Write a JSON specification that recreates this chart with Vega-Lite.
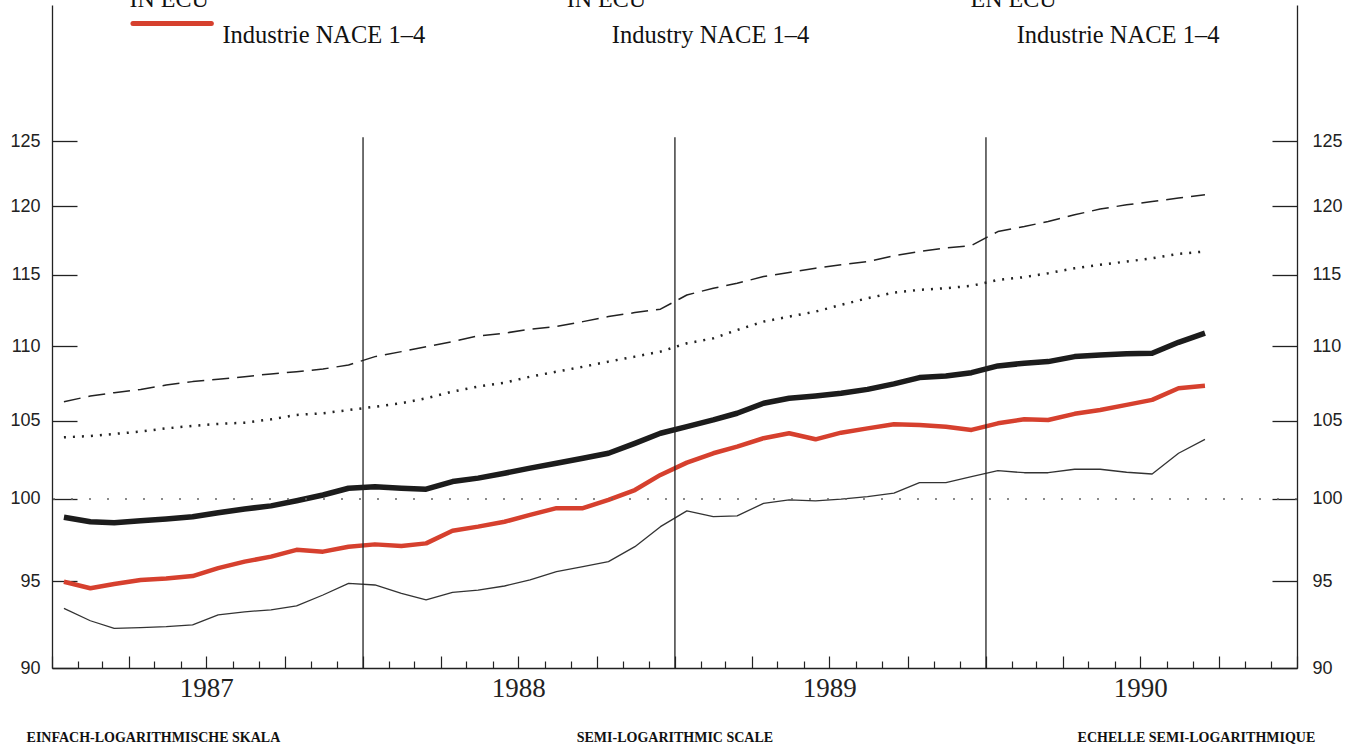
{
  "$schema": "https://vega.github.io/schema/vega-lite/v6.json",
  "width": 1245,
  "height": 663,
  "autosize": {"type": "none"},
  "padding": {"left": 52, "top": 5, "right": 63, "bottom": 83},
  "background": "white",
  "config": {"view": {"stroke": null}, "axis": {"grid": false}},
  "resolve": {"axis": {"y": "independent"}},
  "datasets": {
    "series": [
      {"date": "1987-01-15", "S1": 106.25, "S2": 103.92, "S3": 98.87, "NACE": 94.97, "S4": 93.41},
      {"date": "1987-02-15", "S1": 106.63, "S2": 104.00, "S3": 98.59, "NACE": 94.59, "S4": 92.69},
      {"date": "1987-03-15", "S1": 106.85, "S2": 104.14, "S3": 98.53, "NACE": 94.84, "S4": 92.25},
      {"date": "1987-04-15", "S1": 107.07, "S2": 104.29, "S3": 98.65, "NACE": 95.08, "S4": 92.29},
      {"date": "1987-05-15", "S1": 107.36, "S2": 104.50, "S3": 98.76, "NACE": 95.17, "S4": 92.35},
      {"date": "1987-06-15", "S1": 107.59, "S2": 104.66, "S3": 98.90, "NACE": 95.31, "S4": 92.45},
      {"date": "1987-07-15", "S1": 107.75, "S2": 104.79, "S3": 99.15, "NACE": 95.78, "S4": 93.03},
      {"date": "1987-08-15", "S1": 107.92, "S2": 104.87, "S3": 99.38, "NACE": 96.17, "S4": 93.21},
      {"date": "1987-09-15", "S1": 108.11, "S2": 105.09, "S3": 99.57, "NACE": 96.47, "S4": 93.32},
      {"date": "1987-10-15", "S1": 108.26, "S2": 105.38, "S3": 99.89, "NACE": 96.88, "S4": 93.55},
      {"date": "1987-11-15", "S1": 108.44, "S2": 105.49, "S3": 100.25, "NACE": 96.77, "S4": 94.19},
      {"date": "1987-12-15", "S1": 108.71, "S2": 105.70, "S3": 100.67, "NACE": 97.07, "S4": 94.88},
      {"date": "1988-01-15", "S1": 109.28, "S2": 105.92, "S3": 100.77, "NACE": 97.21, "S4": 94.78},
      {"date": "1988-02-15", "S1": 109.62, "S2": 106.15, "S3": 100.67, "NACE": 97.11, "S4": 94.29},
      {"date": "1988-03-15", "S1": 109.96, "S2": 106.48, "S3": 100.61, "NACE": 97.27, "S4": 93.90},
      {"date": "1988-04-15", "S1": 110.30, "S2": 106.92, "S3": 101.09, "NACE": 98.04, "S4": 94.35},
      {"date": "1988-05-15", "S1": 110.70, "S2": 107.26, "S3": 101.31, "NACE": 98.29, "S4": 94.48},
      {"date": "1988-06-15", "S1": 110.89, "S2": 107.52, "S3": 101.62, "NACE": 98.59, "S4": 94.72},
      {"date": "1988-07-15", "S1": 111.16, "S2": 107.92, "S3": 101.94, "NACE": 99.01, "S4": 95.08},
      {"date": "1988-08-15", "S1": 111.35, "S2": 108.26, "S3": 102.25, "NACE": 99.43, "S4": 95.57},
      {"date": "1988-09-15", "S1": 111.69, "S2": 108.59, "S3": 102.57, "NACE": 99.43, "S4": 95.87},
      {"date": "1988-10-15", "S1": 112.04, "S2": 108.94, "S3": 102.89, "NACE": 99.94, "S4": 96.17},
      {"date": "1988-11-15", "S1": 112.32, "S2": 109.28, "S3": 103.53, "NACE": 100.56, "S4": 97.07},
      {"date": "1988-12-15", "S1": 112.56, "S2": 109.62, "S3": 104.18, "NACE": 101.51, "S4": 98.29},
      {"date": "1989-01-15", "S1": 113.56, "S2": 110.19, "S3": 104.61, "NACE": 102.29, "S4": 99.26},
      {"date": "1989-02-15", "S1": 114.04, "S2": 110.53, "S3": 105.05, "NACE": 102.89, "S4": 98.90},
      {"date": "1989-03-15", "S1": 114.39, "S2": 111.11, "S3": 105.49, "NACE": 103.32, "S4": 98.95},
      {"date": "1989-04-15", "S1": 114.87, "S2": 111.69, "S3": 106.15, "NACE": 103.86, "S4": 99.73},
      {"date": "1989-05-15", "S1": 115.16, "S2": 112.04, "S3": 106.48, "NACE": 104.18, "S4": 99.94},
      {"date": "1989-06-15", "S1": 115.47, "S2": 112.39, "S3": 106.63, "NACE": 103.79, "S4": 99.88},
      {"date": "1989-07-15", "S1": 115.72, "S2": 112.86, "S3": 106.81, "NACE": 104.22, "S4": 99.99},
      {"date": "1989-08-15", "S1": 115.95, "S2": 113.33, "S3": 107.07, "NACE": 104.50, "S4": 100.15},
      {"date": "1989-09-15", "S1": 116.37, "S2": 113.73, "S3": 107.44, "NACE": 104.77, "S4": 100.36},
      {"date": "1989-10-15", "S1": 116.68, "S2": 113.92, "S3": 107.86, "NACE": 104.72, "S4": 101.02},
      {"date": "1989-11-15", "S1": 116.93, "S2": 114.04, "S3": 107.97, "NACE": 104.61, "S4": 101.02},
      {"date": "1989-12-15", "S1": 117.12, "S2": 114.21, "S3": 108.19, "NACE": 104.40, "S4": 101.40},
      {"date": "1990-01-15", "S1": 118.14, "S2": 114.63, "S3": 108.65, "NACE": 104.83, "S4": 101.78},
      {"date": "1990-02-15", "S1": 118.51, "S2": 114.83, "S3": 108.83, "NACE": 105.09, "S4": 101.65},
      {"date": "1990-03-15", "S1": 118.89, "S2": 115.11, "S3": 108.94, "NACE": 105.05, "S4": 101.65},
      {"date": "1990-04-15", "S1": 119.38, "S2": 115.47, "S3": 109.28, "NACE": 105.45, "S4": 101.87},
      {"date": "1990-05-15", "S1": 119.81, "S2": 115.72, "S3": 109.39, "NACE": 105.70, "S4": 101.87},
      {"date": "1990-06-15", "S1": 120.13, "S2": 115.95, "S3": 109.47, "NACE": 106.04, "S4": 101.68},
      {"date": "1990-07-15", "S1": 120.37, "S2": 116.19, "S3": 109.51, "NACE": 106.37, "S4": 101.57},
      {"date": "1990-08-15", "S1": 120.63, "S2": 116.51, "S3": 110.26, "NACE": 107.15, "S4": 102.89},
      {"date": "1990-09-15", "S1": 120.88, "S2": 116.68, "S3": 110.89, "NACE": 107.32, "S4": 103.79}
    ]
  },
  "layer": [
    {
      "data": {"name": "series"},
      "mark": {"type": "line", "strokeJoin": "round", "color": "#222222", "strokeWidth": 1.5, "strokeDash": [17, 8]},
      "encoding": {
        "x": {
          "field": "date",
          "type": "temporal",
          "scale": {"type": "utc", "domain": [{"year": 1987, "month": 1, "date": 1, "utc": true}, {"year": 1991, "month": 1, "date": 1, "utc": true}]},
          "axis": {
            "orient": "bottom",
            "title": null,
            "tickCount": {"interval": "month", "step": 1},
            "tickSize": {"condition": {"test": "utcmonth(datum.value) % 3 == 0", "value": -12}, "value": -7},
            "tickColor": "#222",
            "tickWidth": 1.2,
            "domainColor": "#222",
            "domainWidth": 1.3,
            "labelExpr": "utcmonth(datum.value) == 6 ? utcFormat(datum.value, '%Y') : ''",
            "labelOverlap": false,
            "labelFlush": false,
            "labelBound": false,
            "labelFont": "Liberation Serif",
            "labelFontSize": 27,
            "labelColor": "#222",
            "labelPadding": 19,
            "labelBaseline": "top"
          }
        },
        "y": {
          "field": "S1",
          "type": "quantitative",
          "scale": {"type": "log", "domain": [90, 136.06], "nice": false},
          "axis": {
            "orient": "left",
            "title": null,
            "values": [90, 95, 100, 105, 110, 115, 120, 125],
            "format": "d",
            "tickSize": -25,
            "tickColor": "#222",
            "tickWidth": 1.3,
            "domainColor": "#222",
            "domainWidth": 1.3,
            "labelFont": "Liberation Sans",
            "labelFontSize": 18,
            "labelColor": "#222",
            "labelPadding": 37
          }
        }
      }
    },
    {
      "data": {"name": "series"},
      "mark": {"type": "line", "color": "#222222", "strokeWidth": 2.5, "strokeDash": [2, 7]},
      "encoding": {
        "x": {"field": "date", "type": "temporal"},
        "y": {"field": "S2", "type": "quantitative", "scale": {"type": "log", "domain": [90, 136.06], "nice": false}, "axis": null}
      }
    },
    {
      "data": {"name": "series"},
      "mark": {"type": "line", "strokeJoin": "round", "color": "#1c1c1c", "strokeWidth": 5.5},
      "encoding": {
        "x": {"field": "date", "type": "temporal"},
        "y": {"field": "S3", "type": "quantitative", "scale": {"type": "log", "domain": [90, 136.06], "nice": false}, "axis": null}
      }
    },
    {
      "data": {"name": "series"},
      "mark": {"type": "line", "strokeJoin": "round", "color": "#333333", "strokeWidth": 1.3},
      "encoding": {
        "x": {"field": "date", "type": "temporal"},
        "y": {"field": "S4", "type": "quantitative", "scale": {"type": "log", "domain": [90, 136.06], "nice": false}, "axis": null}
      }
    },
    {
      "data": {"name": "series"},
      "mark": {"type": "line", "strokeJoin": "round", "color": "#d6402e", "strokeWidth": 4.5},
      "encoding": {
        "x": {"field": "date", "type": "temporal"},
        "y": {"field": "NACE", "type": "quantitative", "scale": {"type": "log", "domain": [90, 136.06], "nice": false}, "axis": null}
      }
    },
    {
      "data": {"values": [{"ref": 100}]},
      "mark": {"type": "rule", "strokeDash": [2, 16], "color": "#666666", "strokeWidth": 1.4},
      "encoding": {
        "y": {
          "field": "ref",
          "type": "quantitative",
          "scale": {"type": "log", "domain": [90, 136.06], "nice": false},
          "axis": {
            "orient": "right",
            "title": null,
            "values": [90, 95, 100, 105, 110, 115, 120, 125],
            "format": "d",
            "tickSize": -25,
            "tickColor": "#222",
            "tickWidth": 1.3,
            "domainColor": "#222",
            "domainWidth": 1.3,
            "labelFont": "Liberation Sans",
            "labelFontSize": 18,
            "labelColor": "#222",
            "labelPadding": 40
          }
        }
      }
    },
    {
      "data": {"values": [{"date": "1988-01-01"}, {"date": "1989-01-01"}, {"date": "1990-01-01"}]},
      "mark": {"type": "rule", "color": "#222222", "strokeWidth": 1.3},
      "encoding": {
        "x": {"field": "date", "type": "temporal"},
        "y": {"datum": 90, "type": "quantitative", "scale": {"type": "log", "domain": [90, 136.06], "nice": false}, "axis": null},
        "y2": {"datum": 125.3}
      }
    },
    {
      "data": {"values": [{"start": "1987-04-06", "end": "1987-07-07"}]},
      "mark": {"type": "rule", "color": "#d6402e", "strokeWidth": 5, "strokeCap": "round"},
      "encoding": {
        "x": {"field": "start", "type": "temporal"},
        "x2": {"field": "end"},
        "y": {"datum": 134.5, "type": "quantitative", "scale": {"type": "log", "domain": [90, 136.06], "nice": false}, "axis": null}
      }
    },
    {
      "data": {"values": [
        {"date": "1987-04-02", "label": "IN ECU"},
        {"date": "1988-08-27", "label": "IN ECU"},
        {"date": "1989-12-14", "label": "EN ECU"}
      ]},
      "mark": {"type": "text", "align": "left", "baseline": "alphabetic", "font": "Liberation Serif", "fontSize": 24, "color": "#111111"},
      "encoding": {
        "x": {"field": "date", "type": "temporal"},
        "y": {"datum": 135.9, "type": "quantitative", "scale": {"type": "log", "domain": [90, 136.06], "nice": false}, "axis": null},
        "text": {"field": "label"}
      }
    },
    {
      "data": {"values": [
        {"date": "1987-07-20", "label": "Industrie NACE 1–4"},
        {"date": "1988-10-19", "label": "Industry NACE 1–4"},
        {"date": "1990-02-06", "label": "Industrie NACE 1–4"}
      ]},
      "mark": {"type": "text", "align": "left", "baseline": "alphabetic", "font": "Liberation Serif", "fontSize": 24.5, "color": "#111111"},
      "encoding": {
        "x": {"field": "date", "type": "temporal"},
        "y": {"datum": 132.9, "type": "quantitative", "scale": {"type": "log", "domain": [90, 136.06], "nice": false}, "axis": null},
        "text": {"field": "label"}
      }
    },
    {
      "data": {"values": [
        {"date": "1987-04-30", "label": "EINFACH-LOGARITHMISCHE SKALA"},
        {"date": "1989-01-01", "label": "SEMI-LOGARITHMIC SCALE"},
        {"date": "1990-09-05", "label": "ECHELLE SEMI-LOGARITHMIQUE"}
      ]},
      "mark": {"type": "text", "align": "center", "baseline": "alphabetic", "font": "Liberation Serif", "fontSize": 14, "fontWeight": "bold", "color": "#111111"},
      "encoding": {
        "x": {"field": "date", "type": "temporal"},
        "y": {"datum": 85.94, "type": "quantitative", "scale": {"type": "log", "domain": [90, 136.06], "nice": false}, "axis": null},
        "text": {"field": "label"}
      }
    }
  ]
}
